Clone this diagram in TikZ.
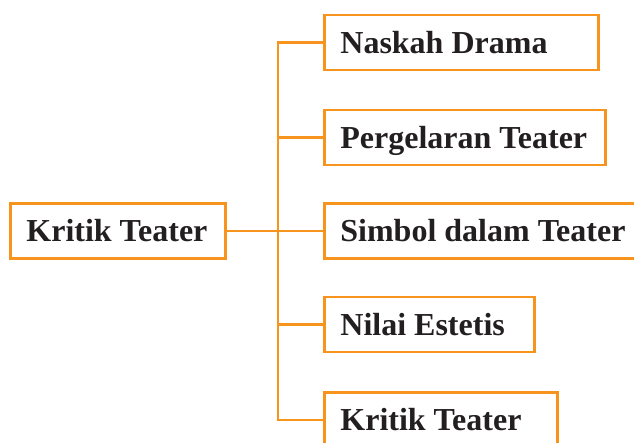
\documentclass[tikz,border=0pt]{standalone}
\usepackage{fontspec}
\setmainfont{Liberation Serif}
\usepackage{tikz}
\usetikzlibrary{positioning,calc}
\definecolor{branchorange}{RGB}{247,148,29}
\definecolor{inkdark}{RGB}{35,31,32}

\begin{document}
\begin{tikzpicture}[
        x=1pt, y=1pt,
        topic/.style={rectangle, draw=branchorange, line width=2.8pt, anchor=west, align=flush left,
            inner xsep=16pt, minimum height=55pt, text height=24pt, text depth=3pt, text width=#1,
            text=inkdark, font=\fontsize{32}{38}\selectfont\bfseries},
        line/.style={draw, line width=2.8pt, color=branchorange}
    ]
        \clip (0,0) rectangle (634,-442);

        % Root
        \node[topic=183pt] (KRT) at (9,-231) {Kritik Teater};

        % Branches
        \node[topic=242pt] (NSK) at (323,-42.5) {Naskah Drama};
        \node[topic=249pt] (PGL) at (323,-137.5) {Pergelaran Teater};
        \node[topic=308pt] (SMB) at (323,-231) {Simbol dalam Teater};
        \node[topic=178pt] (NLE) at (323,-324.5) {Nilai Estetis};
        \node[topic=201pt] (KRB) at (323,-420) {Kritik Teater};

        % Spine
        \coordinate (spine) at (278,-231);

        % Connectors
        \draw[line] (KRT.east) -- (spine) -- (SMB.west);
        \draw[line] (NSK.west) -| (spine) |- (KRB.west);
        \draw[line] (spine |- PGL) -- (PGL.west);
        \draw[line] (spine |- NLE) -- (NLE.west);

    \end{tikzpicture}
\end{document}
